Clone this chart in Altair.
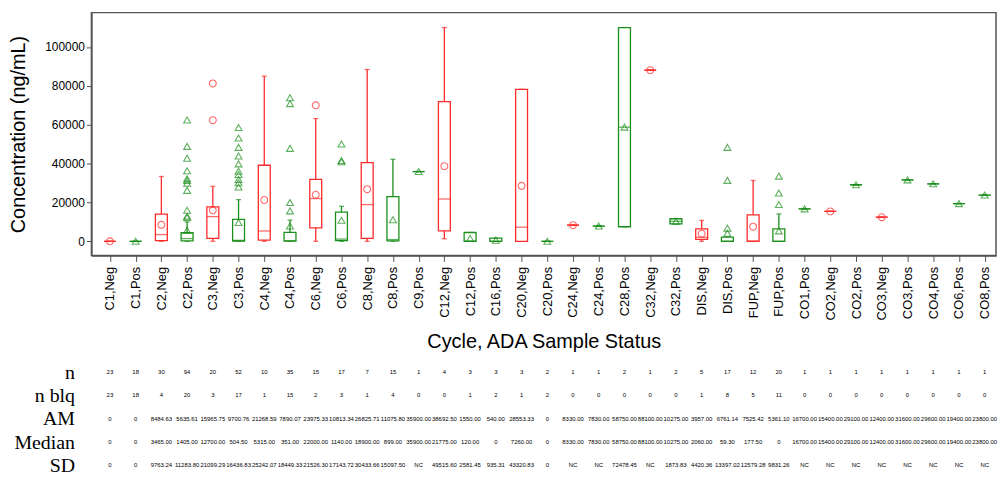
import altair as alt
import pandas as pd

cats = ["C1,Neg", "C1,Pos", "C2,Neg", "C2,Pos", "C3,Neg", "C3,Pos", "C4,Neg", "C4,Pos",
        "C6,Neg", "C6,Pos", "C8,Neg", "C8,Pos", "C9,Pos", "C12,Neg", "C12,Pos", "C16,Pos",
        "C20,Neg", "C20,Pos", "C24,Neg", "C24,Pos", "C28,Pos", "C32,Neg", "C32,Pos",
        "DIS,Neg", "DIS,Pos", "FUP,Neg", "FUP,Pos", "CO1,Pos", "CO2,Neg", "CO2,Pos",
        "CO3,Neg", "CO3,Pos", "CO4,Pos", "CO6,Pos", "CO8,Pos"]

# box statistics
q1 = [0, 0, 300, 200, 1530, 150, 660, 120, 6950, 300, 1530, 200, 35900, 5420, 0, 0,
      0, 0, 8330, 7830, 7500, 88100, 8950, 1020, 0, 0, 0, 16700, 15400, 29100,
      12400, 31600, 29600, 19400, 23800]
q3 = [0, 0, 13950, 4400, 17680, 11240, 39150, 4600, 31840, 14970, 40530, 23000, 35900, 71860, 4530, 1620,
      78190, 0, 8330, 7830, 110000, 88100, 11600, 6440, 2200, 13600, 6440, 16700, 15400, 29100,
      12400, 31600, 29600, 19400, 23800]
med = [0, 0, 3465, 1405, 12700, 504.5, 5315, 351, 22000, 1140, 18900, 899, 35900, 21775, 120, 0,
       7260, 0, 8330, 7830, 58750, 88100, 10275, 2060, 59.3, 177.5, 0, 16700, 15400, 29100,
       12400, 31600, 29600, 19400, 23800]
lo = [0, 0, 0, 0, 0, 0, 0, 0, 0, 0, 0, 0, 35900, 1330, 0, 0,
      0, 0, 8330, 7830, 7500, 88100, 8950, 0, 0, 0, 0, 16700, 15400, 29100,
      12400, 31600, 29600, 19400, 23800]
hi = [0, 0, 33370, 10000, 28260, 21460, 85000, 10890, 63170, 18040, 88410, 42220, 35900, 110030, 4530, 1620,
      78190, 0, 8330, 7830, 110000, 88100, 11600, 10730, 2200, 31330, 14110, 16700, 15400, 29100,
      12400, 31600, 29600, 19400, 23800]

outlier_cats = ["C2,Pos", "C3,Neg", "C3,Pos", "C4,Pos", "C6,Neg", "C6,Pos", "DIS,Pos", "FUP,Pos"]
outlier_vals = [
    [62450, 48860, 42730, 36280, 32190, 31330, 29950, 26220, 16000, 12930, 12270],
    [81250, 62350],
    [58570, 53150, 48350, 43920, 39860, 36080, 34390, 31840, 30150, 27900],
    [73900, 70830, 47840, 19930, 15640],
    [70000],
    [50080, 41550, 40900],
    [48350, 31330, 4100],
    [33530, 24840, 18910],
]

# summary table
row_names = ["n", "n blq", "AM", "Median", "SD"]
n_vals = ["23", "18", "30", "94", "20", "52", "10", "35", "15", "17", "7", "15", "1", "4", "3", "3",
          "3", "2", "1", "1", "2", "1", "2", "5", "17", "12", "20", "1", "1", "1", "1", "1", "1", "1", "1"]
nblq_vals = ["23", "18", "4", "20", "3", "17", "1", "15", "2", "3", "1", "4", "0", "0", "1", "2",
             "1", "2", "0", "0", "0", "0", "0", "1", "8", "5", "11", "0", "0", "0", "0", "0", "0", "0", "0"]
am_vals = ["0", "0", "8484.63", "5635.61", "15965.75", "9700.76", "21268.59", "7890.07", "23975.33",
           "10813.34", "26825.71", "11075.80", "35900.00", "38692.50", "1550.00", "540.00", "28553.33",
           "0", "8330.00", "7830.00", "58750.00", "88100.00", "10275.00", "3957.00", "6761.14",
           "7525.42", "5361.10", "16700.00", "15400.00", "29100.00", "12400.00", "31600.00",
           "29600.00", "19400.00", "23800.00"]
median_vals = ["0", "0", "3465.00", "1405.00", "12700.00", "504.50", "5315.00", "351.00", "22000.00",
               "1140.00", "18900.00", "899.00", "35900.00", "21775.00", "120.00", "0", "7260.00",
               "0", "8330.00", "7830.00", "58750.00", "88100.00", "10275.00", "2060.00", "59.30",
               "177.50", "0", "16700.00", "15400.00", "29100.00", "12400.00", "31600.00",
               "29600.00", "19400.00", "23800.00"]
sd_vals = ["0", "0", "9763.24", "11283.80", "21099.29", "16436.83", "25242.07", "18449.33", "21526.30",
           "17143.72", "30433.66", "15097.50", "NC", "49515.60", "2581.45", "935.31", "43320.83",
           "0", "NC", "NC", "72478.45", "NC", "1873.83", "4420.36", "13397.02",
           "12579.28", "9831.26", "NC", "NC", "NC", "NC", "NC", "NC", "NC", "NC"]

RED = "#ff2b2b"
GREEN = "#1b8f1b"

status = [c.split(",")[1] for c in cats]
box_df = pd.DataFrame({"cat": cats, "status": status, "q1": q1, "q3": q3, "med": med,
                       "lo": lo, "hi": hi, "mean": [float(v) for v in am_vals]})
out_rows = []
for c, vals in zip(outlier_cats, outlier_vals):
    for v in vals:
        out_rows.append({"cat": c, "status": c.split(",")[1], "val": v})
out_df = pd.DataFrame(out_rows)

tab_rows = []
for rn, vals in zip(row_names, [n_vals, nblq_vals, am_vals, median_vals, sd_vals]):
    for c, v in zip(cats, vals):
        tab_rows.append({"cat": c, "row": rn, "txt": v})
tab_df = pd.DataFrame(tab_rows)

color_scale = alt.Scale(domain=["Neg", "Pos"], range=[RED, GREEN])
shape_scale = alt.Scale(domain=["Neg", "Pos"], range=["circle", "triangle-up"])
xscale = alt.Scale(type="point", domain=cats, padding=0.58, align=0.62)
yscale = alt.Scale(domain=[-7260, 117700], nice=False, zero=False)

xaxis = alt.Axis(title="Cycle, ADA Sample Status", labelAngle=270, labelFontSize=13,
                 labelFont="Liberation Sans", titleFont="Liberation Sans", titleFontSize=20,
                 titleFontWeight="normal", labelColor="black", titleColor="black",
                 tickSize=6, labelPadding=5, titlePadding=12, domainColor="#555",
                 tickColor="#555", domainWidth=1.5)
yaxis = alt.Axis(title="Concentration (ng/mL)", values=[0, 20000, 40000, 60000, 80000, 100000],
                 format="d", grid=False, labelFontSize=12, labelFont="Liberation Sans",
                 titleFont="Liberation Sans", titleFontSize=20, titleFontWeight="normal",
                 labelColor="black", titleColor="black", tickSize=5, labelPadding=2,
                 titlePadding=16, domainColor="#555", tickColor="#555", domainWidth=1.5)


def X():
    return alt.X("cat:N", scale=xscale, sort=cats, axis=xaxis, title="Cycle, ADA Sample Status")


def Y(field):
    return alt.Y(field, type="quantitative", scale=yscale, axis=yaxis, title="Concentration (ng/mL)")


col = alt.Color("status:N", scale=color_scale, legend=None)
base = alt.Chart(box_df)

whisk = base.mark_rule(strokeWidth=1.3).encode(x=X(), y=Y("lo"), y2="hi:Q", color=col)
cap_lo = base.mark_tick(size=5, thickness=1.3).encode(x=X(), y=Y("lo"), color=col)
cap_hi = base.mark_tick(size=5, thickness=1.3).encode(x=X(), y=Y("hi"), color=col)
box = base.mark_bar(size=12, fill="white", strokeWidth=1.3).encode(
    x=X(), y=Y("q1"), y2="q3:Q", stroke=alt.Stroke("status:N", scale=color_scale, legend=None))
median = base.mark_tick(size=12, thickness=1.3).encode(x=X(), y=Y("med"), color=col)
mean = base.mark_point(filled=False, size=48, strokeWidth=1.1).encode(
    x=X(), y=Y("mean"), color=col, shape=alt.Shape("status:N", scale=shape_scale, legend=None))
outl = alt.Chart(out_df).mark_point(filled=False, size=48, strokeWidth=1.1).encode(
    x=X(), y=Y("val"), color=col, shape=alt.Shape("status:N", scale=shape_scale, legend=None))

top = alt.layer(whisk, cap_lo, cap_hi, box, median, mean, outl).properties(width=911, height=244.5)

table = alt.Chart(tab_df).mark_text(fontSize=6, font="Liberation Sans", color="black").encode(
    x=alt.X("cat:N", scale=xscale, sort=cats, axis=None),
    y=alt.Y("row:N", sort=row_names, scale=alt.Scale(type="point", padding=0),
            axis=alt.Axis(title=None, ticks=False, domain=False, labelFont="Liberation Serif",
                          labelFontSize=20, labelPadding=17, labelColor="black")),
    text="txt:N",
).properties(width=911, height=94, view=alt.ViewBackground(strokeOpacity=0))

chart = alt.vconcat(top, table, spacing=9).properties(
    padding={"left": 0, "top": 2, "right": 0, "bottom": 0}
).configure_view(stroke="#555", strokeWidth=1.5)

chart.save("out.html", embed_options={"renderer": "svg", "actions": False})
